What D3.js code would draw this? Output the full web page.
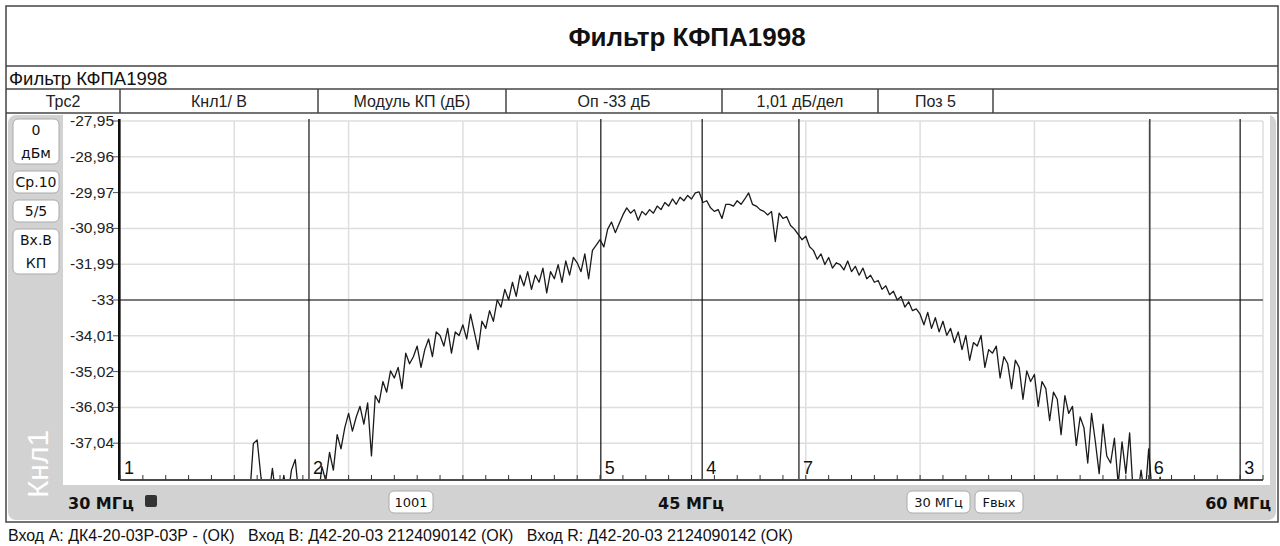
<!DOCTYPE html>
<meta charset="utf-8">
<script src="https://d3js.org/d3.v7.min.js"></script>
<style>
  body { margin: 0; background: #fff; }
  svg text { font-family: "Liberation Sans", Arial, sans-serif; }
  .btn text { font-family: "DejaVu Sans", Verdana, sans-serif; }
</style>
<div id="my_dataviz"></div>
<script>

// header cells of the trace row
var headerCells = ["Трс2", "Кнл1/ В", "Модуль КП (дБ)", "Оп -33 дБ", "1,01 дБ/дел", "Поз 5"];
var headerEdges = [6, 120, 318, 506, 722, 878, 993];

// y axis ticks (dB)
var yTicks = [-27.95, -28.96, -29.97, -30.98, -31.99, -33, -34.01, -35.02, -36.03, -37.04];
var refLevel = -33;

// markers: number and frequency in MHz
var markerIds = ["1", "2", "5", "4", "7", "6", "3"];
var markerFreq = [30.0, 34.96, 42.62, 45.28, 47.82, 57.03, 59.40];

// measured trace, 30..60 MHz, 0.1 MHz step (values below -38.05 fall out of the screen)
var traceStart = 30, traceStep = 0.1;
var trace = [
  -38.6, -38.6, -38.6, -38.6, -38.6, -38.6, -38.6, -38.6, -38.6, -38.6,
  -38.6, -38.6, -38.6, -38.6, -38.6, -38.6, -38.6, -38.6, -38.6, -38.6,
  -38.6, -38.6, -38.6, -38.6, -38.6, -38.6, -38.6, -38.6, -38.6, -38.6,
  -38.6, -38.6, -38.6, -38.6, -38.6, -37.05, -36.95, -38.0, -38.6, -38.6,
  -37.75, -38.6, -38.6, -37.95, -38.6, -37.8, -37.5, -38.6, -38.6, -38.6,
  -38.6, -38.2, -38.6, -37.7, -38.1, -37.3, -37.8, -36.8, -37.2, -36.6,
  -36.2, -36.7, -36.3, -36.0, -36.5, -35.9, -37.4, -35.7, -35.9, -35.3,
  -35.6, -35.0, -35.2, -34.9, -35.5, -34.5, -34.8, -34.6, -34.3, -34.9,
  -34.4, -34.1, -34.6, -33.9, -34.0, -34.3, -33.8, -34.5, -33.9, -34.0,
  -33.7, -34.1, -33.4, -33.9, -34.4, -33.6, -33.8, -33.3, -33.6, -33.0,
  -33.2, -32.7, -33.0, -32.5, -32.9, -32.3, -32.6, -32.2, -32.7, -32.3,
  -32.5, -32.1, -32.8, -32.2, -32.4, -32.0, -32.5, -31.9, -32.3, -31.8,
  -31.95, -32.2, -31.7, -32.4, -31.6, -31.45, -31.3, -31.5, -31.0, -30.8,
  -31.1, -30.85, -30.6, -30.4, -30.55, -30.45, -30.75, -30.5, -30.6, -30.45,
  -30.55, -30.35, -30.45, -30.25, -30.35, -30.15, -30.3, -30.1, -30.2, -30.05,
  -30.15, -29.98, -29.95, -30.25, -30.2, -30.4, -30.5, -30.45, -30.7, -30.3,
  -30.3, -30.35, -30.2, -30.3, -30.15, -29.98, -30.3, -30.35, -30.45, -30.5,
  -30.6, -30.5, -31.35, -30.55, -30.7, -30.65, -30.9, -31.0, -31.15, -31.3,
  -31.2, -31.5, -31.6, -31.85, -31.7, -32.0, -31.8, -32.1, -31.95, -32.0,
  -32.15, -31.9, -32.2, -32.05, -32.3, -32.1, -32.4, -32.3, -32.5, -32.45,
  -32.7, -32.6, -32.85, -32.75, -33.0, -32.9, -33.2, -33.05, -33.3, -33.25,
  -33.4, -33.7, -33.35, -33.8, -33.5, -33.9, -33.6, -34.0, -33.8, -34.2,
  -33.9, -34.4, -34.0, -34.7, -34.2, -34.3, -34.0, -34.9, -34.4, -34.5,
  -34.3, -35.2, -34.6, -34.8, -35.5, -34.7, -34.9, -35.8, -35.0, -35.3,
  -35.1, -36.0, -35.3, -35.5, -36.4, -35.6, -35.8, -36.8, -35.7, -36.2,
  -36.0, -37.1, -36.3, -36.6, -37.6, -36.2, -37.0, -37.9, -36.5, -37.4,
  -37.6, -36.9, -38.2, -37.0, -37.9, -36.75, -38.6, -38.6, -37.8, -38.6,
  -37.2, -38.6, -38.6, -38.0, -38.6, -38.6, -38.6, -38.6, -38.6, -38.6,
  -38.6, -38.6, -38.6, -38.6, -38.6, -38.6, -38.6, -38.6, -38.6, -38.6,
  -38.6, -38.6, -38.6, -38.6, -38.6, -38.6, -38.6, -38.6, -38.6, -38.6,
  -38.6
];

var W = 1280, H = 546;
var plot = { left: 120, right: 1263, top: 121, bottom: 479 };

var svg = d3.select("#my_dataviz")
  .append("svg")
  .attr("width", W)
  .attr("height", H);

var x = d3.scaleLinear().domain([30, 60]).range([plot.left, plot.right]);
var y = d3.scaleLinear().domain([-38.05, -27.95]).range([plot.bottom, plot.top]);

function fmt(v) {
  return (Math.round(v * 100) / 100).toString().replace(".", ",");
}

// ---- frame and header ----
svg.append("rect")
  .attr("x", 6).attr("y", 6).attr("width", 1272).attr("height", 516)
  .attr("fill", "#fff").attr("stroke", "#444").attr("stroke-width", 1.5);

[66, 89, 113].forEach(function (yy) {
  svg.append("line")
    .attr("x1", 6).attr("x2", 1278).attr("y1", yy).attr("y2", yy)
    .attr("stroke", "#444").attr("stroke-width", 1.5);
});

svg.append("text")
  .attr("x", 687).attr("y", 46)
  .attr("text-anchor", "middle")
  .style("font-size", "26px").style("font-weight", "bold")
  .attr("fill", "#111")
  .text("Фильтр КФПА1998");

svg.append("text")
  .attr("x", 9).attr("y", 85)
  .style("font-size", "18.5px")
  .attr("fill", "#111")
  .text("Фильтр КФПА1998");

headerEdges.slice(1).forEach(function (xx) {
  svg.append("line")
    .attr("x1", xx).attr("x2", xx).attr("y1", 89).attr("y2", 113)
    .attr("stroke", "#444").attr("stroke-width", 1.5);
});
headerCells.forEach(function (t, i) {
  svg.append("text")
    .attr("x", (headerEdges[i] + headerEdges[i + 1]) / 2)
    .attr("y", 107)
    .attr("text-anchor", "middle")
    .style("font-size", "16px")
    .attr("fill", "#222")
    .text(t);
});

// ---- grey panel ----
svg.append("rect")
  .attr("x", 8).attr("y", 115).attr("width", 1268).attr("height", 405)
  .attr("rx", 8)
  .attr("fill", "#d2d2d2");
svg.append("rect")
  .attr("x", 63).attr("y", 115).attr("width", 1207).attr("height", 370)
  .attr("fill", "#fff");

// ---- grid ----
var g = svg.append("g");

g.selectAll(".vgrid")
  .data(d3.range(30, 60.001, 3))
  .enter().append("line")
  .attr("x1", function (d) { return x(d); })
  .attr("x2", function (d) { return x(d); })
  .attr("y1", plot.top).attr("y2", plot.bottom)
  .attr("stroke", "#dedede").attr("stroke-width", 1.5);

g.selectAll(".hgrid")
  .data(yTicks)
  .enter().append("line")
  .attr("x1", plot.left).attr("x2", plot.right)
  .attr("y1", function (d) { return y(d); })
  .attr("y2", function (d) { return y(d); })
  .attr("stroke", "#dedede").attr("stroke-width", 1.5);

// y axis tick marks and labels
g.selectAll(".ytick")
  .data(yTicks)
  .enter().append("line")
  .attr("x1", plot.left - 7).attr("x2", plot.left)
  .attr("y1", function (d) { return y(d); })
  .attr("y2", function (d) { return y(d); })
  .attr("stroke", "#555");

g.selectAll(".ylabel")
  .data(yTicks)
  .enter().append("text")
  .attr("x", plot.left - 6)
  .attr("y", function (d) { return y(d) + 5; })
  .attr("text-anchor", "end")
  .style("font-size", "15.5px")
  .attr("fill", "#222")
  .text(fmt);

// reference level
g.append("line")
  .attr("x1", plot.left).attr("x2", plot.right)
  .attr("y1", y(refLevel)).attr("y2", y(refLevel))
  .attr("stroke", "#111").attr("stroke-width", 1);

// ---- trace ----
svg.append("clipPath").attr("id", "clip")
  .append("rect")
  .attr("x", plot.left).attr("y", plot.top - 2)
  .attr("width", plot.right - plot.left).attr("height", plot.bottom - plot.top + 2);

var line = d3.line()
  .x(function (d, i) { return x(traceStart + i * traceStep); })
  .y(function (d) { return y(d); });

svg.append("path")
  .datum(trace)
  .attr("clip-path", "url(#clip)")
  .attr("fill", "none")
  .attr("stroke", "#1a1a1a")
  .attr("stroke-width", 1.3)
  .attr("stroke-linejoin", "round")
  .attr("d", line);

// ---- markers ----
var mk = svg.append("g");
mk.selectAll("line")
  .data(markerFreq)
  .enter().append("line")
  .attr("x1", function (d) { return x(d); })
  .attr("x2", function (d) { return x(d); })
  .attr("y1", plot.top - 2).attr("y2", plot.bottom)
  .attr("stroke", "#111").attr("stroke-width", 1.2);
mk.selectAll("text")
  .data(markerFreq)
  .enter().append("text")
  .attr("x", function (d) { return x(d) + 4; })
  .attr("y", plot.bottom - 5)
  .style("font-size", "18px")
  .attr("fill", "#111")
  .text(function (d, i) { return markerIds[i]; });

// axes lines
svg.append("line")
  .attr("x1", plot.left - 1).attr("x2", plot.left - 1)
  .attr("y1", plot.top - 2).attr("y2", plot.bottom + 1)
  .attr("stroke", "#111").attr("stroke-width", 2);
svg.append("line")
  .attr("x1", plot.left).attr("x2", plot.right)
  .attr("y1", plot.bottom + 1).attr("y2", plot.bottom + 1)
  .attr("stroke", "#111").attr("stroke-width", 1.5);

svg.append("g").selectAll("line")
  .data(d3.range(30, 60.001, 0.6))
  .enter().append("line")
  .attr("x1", function (d) { return x(d); })
  .attr("x2", function (d) { return x(d); })
  .attr("y1", plot.bottom + 1).attr("y2", plot.bottom - 4)
  .attr("stroke", "#333");

// ---- left panel buttons ----
function button(x0, y0, w, h, lines, size) {
  var b = svg.append("g").attr("class", "btn");
  b.append("rect")
    .attr("x", x0).attr("y", y0).attr("width", w).attr("height", h)
    .attr("rx", 5)
    .attr("fill", "#fff").attr("stroke", "#aaa");
  var step = h / lines.length;
  lines.forEach(function (t, i) {
    b.append("text")
      .attr("x", x0 + w / 2)
      .attr("y", y0 + step * i + step / 2 + 5)
      .attr("text-anchor", "middle")
      .style("font-size", (size || 14) + "px")
      .attr("fill", "#111")
      .text(t);
  });
}
button(13, 119, 46, 45, ["0", "дБм"]);
button(13, 171, 46, 22, ["Ср.10"]);
button(13, 200, 46, 22, ["5/5"]);
button(13, 229, 46, 45, ["Вх.В", "КП"]);

svg.append("text")
  .attr("transform", "translate(48,464) rotate(-90)")
  .attr("text-anchor", "middle")
  .style("font-size", "30px")
  .attr("fill", "#fff")
  .text("Кнл1");

// ---- bottom bar ----
function boldLabel(xx, anchor, t) {
  svg.append("text")
    .attr("x", xx).attr("y", 509)
    .attr("text-anchor", anchor)
    .style("font-family", "'DejaVu Sans', Verdana, sans-serif")
    .style("font-size", "16px").style("font-weight", "bold")
    .attr("fill", "#111")
    .text(t);
}
boldLabel(68, "start", "30 МГц");
boldLabel(691, "middle", "45 МГц");
boldLabel(1271, "end", "60 МГц");

svg.append("rect")
  .attr("x", 145).attr("y", 495).attr("width", 12).attr("height", 12)
  .attr("rx", 2)
  .attr("fill", "#333");

button(389, 491, 44, 22, ["1001"], 13);
button(907, 491, 63, 22, ["30 МГц"], 13);
button(975, 491, 48, 22, ["Fвых"], 13);

// ---- status line ----
svg.append("text")
  .attr("x", 8).attr("y", 541)
  .style("font-size", "16px")
  .attr("fill", "#111")
  .attr("xml:space", "preserve")
  .style("white-space", "pre")
  .text("Вход А: ДК4-20-03Р-03Р - (ОК)   Вход В: Д42-20-03 2124090142 (ОК)   Вход R: Д42-20-03 2124090142 (ОК)");

</script>
